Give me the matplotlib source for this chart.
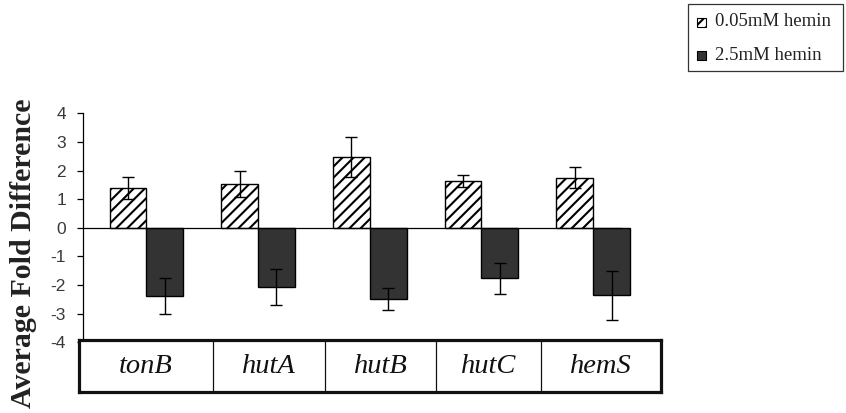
import numpy as np
import matplotlib
matplotlib.use("Agg")
import matplotlib.pyplot as plt
from matplotlib.patches import Rectangle

# Gene targets and fold-change measurements
genes = ["tonB", "hutA", "hutB", "hutC", "hemS"]
low_hemin = [1.38, 1.52, 2.47, 1.63, 1.75]
low_hemin_err = [0.38, 0.46, 0.70, 0.21, 0.36]
high_hemin = [-2.38, -2.06, -2.48, -1.77, -2.36]
high_hemin_err = [0.64, 0.63, 0.39, 0.55, 0.85]
series_labels = ["0.05mM hemin", "2.5mM hemin"]
yticks = [4, 3, 2, 1, 0, -1, -2, -3, -4]

plt.rcParams["hatch.linewidth"] = 1.5
plt.rcParams["hatch.color"] = "black"
plt.rcParams["axes.unicode_minus"] = False

W, H = 846, 413
fig = plt.figure(figsize=(W / 100, H / 100), dpi=100)

def fx(px):
    return px / W

def fy(py):
    return 1 - py / H

# Main chart area
ax = fig.add_axes([fx(82.7), fy(342.3), fx(621.7 - 82.7), (342.3 - 113.3) / H])
x = np.arange(len(genes)) + 0.57
bw = 0.33

b1 = ax.bar(x - bw / 2, low_hemin, bw, color="white", edgecolor="black",
            linewidth=1.0, hatch="///", zorder=2)
b2 = ax.bar(x + bw / 2, high_hemin, bw, color="#333333", edgecolor="black",
            linewidth=1.0, zorder=2)
e1 = ax.errorbar(x - bw / 2, low_hemin, yerr=low_hemin_err, fmt="none",
                 ecolor="black", elinewidth=1.0, capsize=4.5, capthick=1.0,
                 zorder=3)
e2 = ax.errorbar(x + bw / 2, high_hemin, yerr=high_hemin_err, fmt="none",
                 ecolor="black", elinewidth=1.0, capsize=4.5, capthick=1.0,
                 zorder=3)
for art in list(b1) + list(b2):
    art.set_clip_on(False)
for cont in (e1, e2):
    for part in cont.lines[1] + cont.lines[2]:
        part.set_clip_on(False)
ax.axhline(0, color="black", linewidth=0.9, zorder=2.5)

ax.set_xlim(0, 4.826)
ax.set_ylim(-4, 4)
ax.set_yticks(yticks)
ax.set_xticks([])
for s in ["top", "right", "bottom"]:
    ax.spines[s].set_visible(False)
ax.spines["left"].set_linewidth(0.9)
ax.tick_params(axis="y", direction="out", length=4.5, width=0.9, pad=7.5,
               labelsize=12.5, labelcolor="#3a3a3a")
for lbl in ax.get_yticklabels():
    lbl.set_fontfamily("Liberation Sans")

fig.text(fx(24), fy(253), "Average Fold Difference", rotation=90,
         ha="center", va="center", fontsize=21.5, fontweight="bold",
         family="Liberation Serif", color="#222222")

# Category table beneath the bars
tab = fig.add_axes([fx(79.3), fy(392.3), fx(660.7 - 79.3), (392.3 - 340) / H])
tab.set_xlim(0, 1)
tab.set_ylim(0, 1)
tab.set_xticks([])
tab.set_yticks([])
for s in tab.spines.values():
    s.set_linewidth(2.3)
    s.set_color("#111111")
edges = [0.0, 0.2294, 0.4226, 0.6135, 0.7941, 1.0]
for e in edges[1:-1]:
    tab.axvline(e, color="#111111", linewidth=0.9)
for i, g in enumerate(genes):
    tab.text((edges[i] + edges[i + 1]) / 2, 0.5, g, ha="center", va="center",
             fontsize=20.5, style="italic", family="Liberation Serif",
             color="#111111")

# Legend box
fig.patches.append(Rectangle((fx(688), fy(71)), fx(843 - 688), (71 - 4) / H,
                             transform=fig.transFigure, facecolor="white",
                             edgecolor="#333333", linewidth=0.9))
fig.patches.append(Rectangle((fx(697), fy(26.5)), fx(8.5), 8.5 / H,
                             transform=fig.transFigure, facecolor="white",
                             edgecolor="black", linewidth=0.8, hatch="///"))
fig.patches.append(Rectangle((fx(697), fy(59.5)), fx(8.5), 8.5 / H,
                             transform=fig.transFigure, facecolor="#333333",
                             edgecolor="black", linewidth=0.8))
fig.text(fx(715), fy(22), series_labels[0], ha="left", va="center",
         fontsize=13.5, family="Liberation Serif", color="#222222")
fig.text(fx(715), fy(55), series_labels[1], ha="left", va="center",
         fontsize=13.5, family="Liberation Serif", color="#222222")

fig.savefig("out.png", dpi=100, facecolor="white")
